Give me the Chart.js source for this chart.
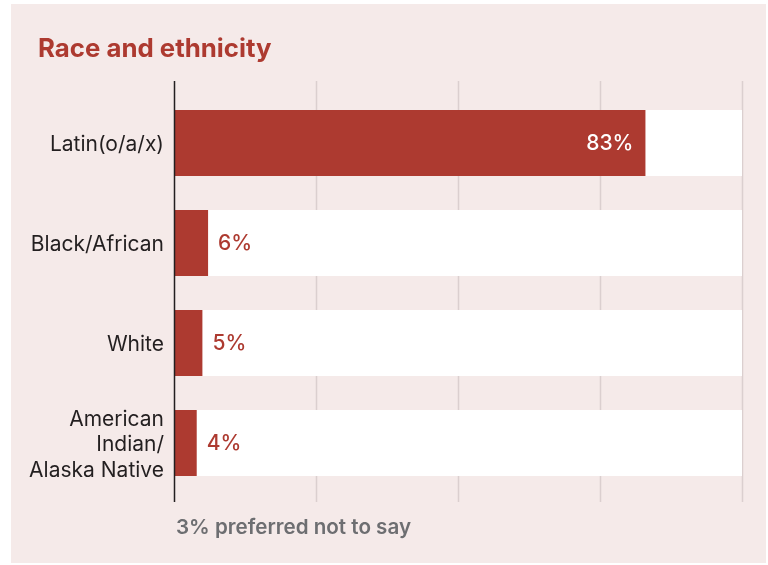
<!DOCTYPE html>
<html>
<head>
<meta charset="utf-8">
<script src="https://cdn.jsdelivr.net/npm/chart.js@4"></script>
<style>
  html, body { margin: 0; padding: 0; background: #fff; }
  .panel {
    position: absolute;
    left: 11px;
    top: 4px;
    width: 755px;
    height: 559px;
    background: #f5eae9;
  }
  .panel canvas { display: block; }
</style>
</head>
<body>
<div class="panel">
  <canvas id="chart" width="755" height="559"></canvas>
</div>
<script>
const categories = ["Latin(o/a/x)", "Black/African", "White", ["American", "Indian/", "Alaska Native"]];
const shares = [83, 6, 5, 4];
const track = [100, 100, 100, 100];
const gridValues = [25, 50, 75, 100];

const RED = "#ad3a30";
const INK = "#231f20";
const FONT = "Inter, 'Noto Sans', sans-serif";

// title, footnote, grid and value labels drawn on the canvas
const decorations = {
  id: "decorations",
  beforeDatasetsDraw(chart) {
    const { ctx, chartArea, scales } = chart;
    const top = chartArea.top - 12;
    const bottom = chartArea.bottom + 9;
    ctx.save();
    ctx.lineWidth = 1.5;
    ctx.strokeStyle = "#dbcfcf";
    gridValues.forEach(v => {
      const x = Math.round(scales.x.getPixelForValue(v)) + 0.5;
      ctx.beginPath();
      ctx.moveTo(x, top);
      ctx.lineTo(x, bottom);
      ctx.stroke();
    });
    ctx.restore();
  },
  afterDatasetsDraw(chart) {
    const { ctx, chartArea } = chart;
    const top = chartArea.top - 12;
    const bottom = chartArea.bottom + 9;
    ctx.save();

    // y axis line
    ctx.strokeStyle = INK;
    ctx.lineWidth = 1.5;
    ctx.beginPath();
    ctx.moveTo(chartArea.left + 0.5, top);
    ctx.lineTo(chartArea.left + 0.5, bottom);
    ctx.stroke();

    // value labels
    const meta = chart.getDatasetMeta(1);
    ctx.font = "500 21px " + FONT;
    ctx.textBaseline = "middle";
    meta.data.forEach((bar, i) => {
      const v = shares[i];
      if (v >= 50) {
        ctx.fillStyle = "#fff";
        ctx.textAlign = "right";
        ctx.fillText(v + "%", bar.x - 12, bar.y + 1);
      } else {
        ctx.fillStyle = RED;
        ctx.textAlign = "left";
        ctx.fillText(v + "%", bar.x + 10, bar.y + 1);
      }
    });

    // title
    ctx.textBaseline = "alphabetic";
    ctx.textAlign = "left";
    ctx.fillStyle = RED;
    ctx.font = "bold 25.8px " + FONT;
    ctx.fillText("Race and ethnicity", 27, 53);

    // footnote
    ctx.fillStyle = "#6d6e71";
    ctx.font = "600 20.6px " + FONT;
    ctx.fillText("3% preferred not to say", chartArea.left + 2, 530);
    ctx.restore();
  }
};

new Chart(document.getElementById("chart"), {
  type: "bar",
  data: {
    labels: categories,
    datasets: [
      {
        data: track,
        backgroundColor: "#ffffff",
        order: 2
      },
      {
        data: shares,
        backgroundColor: RED,
        order: 1
      }
    ]
  },
  options: {
    indexAxis: "y",
    responsive: false,
    animation: false,
    grouped: false,
    categoryPercentage: 1,
    barPercentage: 0.66,
    layout: {
      padding: { top: 89, bottom: 70, left: 0, right: 24 }
    },
    scales: {
      x: {
        display: false,
        min: 0,
        max: 100
      },
      y: {
        afterFit(scale) {
          scale.width = 163;
        },
        grid: { display: false },
        border: { display: false },
        ticks: {
          color: INK,
          padding: 2,
          labelOffset: 2,
          font: { family: FONT, size: 21, lineHeight: 1.2 }
        }
      }
    },
    plugins: {
      legend: { display: false },
      tooltip: { enabled: false }
    }
  },
  plugins: [decorations]
});
</script>
</body>
</html>
